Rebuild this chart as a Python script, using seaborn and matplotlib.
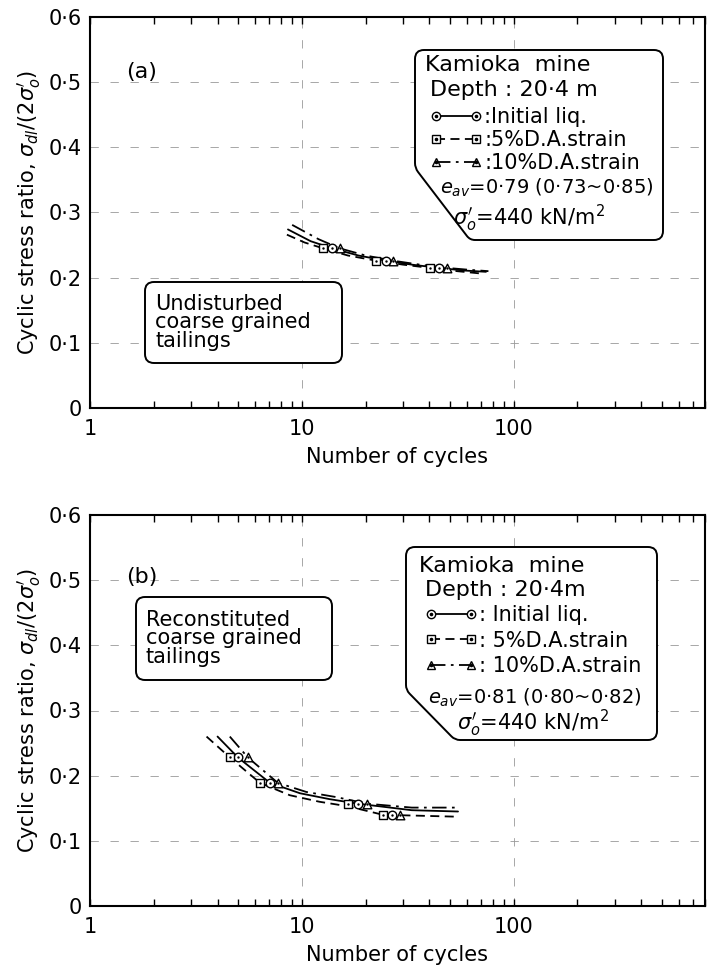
import numpy as np
import seaborn as sns
import matplotlib.pyplot as plt
from matplotlib.lines import Line2D
from matplotlib.path import Path
from matplotlib.patches import PathPatch
from matplotlib.ticker import LogLocator, NullFormatter
from matplotlib.legend_handler import HandlerTuple

sns.set_style("white")
plt.rcParams['font.family'] = ['DejaVu Sans']
plt.rcParams['text.color'] = 'black'
plt.rcParams['axes.labelcolor'] = 'black'
plt.rcParams['xtick.color'] = 'black'
plt.rcParams['ytick.color'] = 'black'

W, H = 716, 967

# ---- data ----
# (a) undisturbed coarse grained tailings
a_levels = [0.245, 0.226, 0.215]
a_n_init = [13.9, 24.9, 44.4]
a_n_5 = [12.6, 22.5, 40.2]
a_n_10 = [15.1, 27.0, 48.3]
a_curve_init_n = [8.6, 11.0, 13.9, 18.5, 24.9, 33.0, 44.4, 58.0, 74.0]
a_curve_init_csr = [0.274, 0.256, 0.245, 0.234, 0.226, 0.220, 0.215, 0.211, 0.209]
a_curve_5_n = [8.5, 10.3, 12.6, 16.5, 22.5, 30.0, 40.2, 54.0, 72.0]
a_curve_5_csr = [0.266, 0.254, 0.245, 0.234, 0.226, 0.220, 0.215, 0.210, 0.206]
a_curve_10_n = [9.0, 12.0, 15.1, 20.0, 27.0, 36.0, 48.3, 62.0, 76.0]
a_curve_10_csr = [0.281, 0.259, 0.245, 0.234, 0.226, 0.220, 0.215, 0.212, 0.210]

# (b) reconstituted coarse grained tailings
b_levels = [0.228, 0.189, 0.157, 0.140]
b_n_init = [4.99, 7.07, 18.4, 26.6]
b_n_5 = [4.57, 6.34, 16.5, 24.1]
b_n_10 = [5.56, 7.70, 20.3, 29.0]
b_curve_init_n = [4.0, 4.99, 7.07, 9.8, 13.5, 18.4, 33.0, 54.6]
b_curve_init_csr = [0.260, 0.228, 0.189, 0.173, 0.164, 0.157, 0.147, 0.145]
b_curve_5_n = [3.55, 4.57, 6.34, 8.77, 12.1, 16.5, 24.1, 54.6]
b_curve_5_csr = [0.260, 0.228, 0.189, 0.170, 0.160, 0.153, 0.140, 0.137]
b_curve_10_n = [4.57, 5.56, 7.70, 10.5, 14.6, 20.3, 33.0, 54.6]
b_curve_10_csr = [0.260, 0.228, 0.189, 0.175, 0.167, 0.157, 0.151, 0.151]

y_ticks = [0, 0.1, 0.2, 0.3, 0.4, 0.5, 0.6]
y_labels = ['0', '0·1', '0·2', '0·3', '0·4', '0·5', '0·6']
x_ticks = [1, 10, 100]
x_labels = ['1', '10', '100']
legend_labels_a = [':Initial liq.', ':5%D.A.strain', ':10%D.A.strain']
legend_labels_b = [': Initial liq.', ': 5%D.A.strain', ': 10%D.A.strain']

styles = {'init': ('-', 'o'), '5': ((0, (5, 3)), 's'), '10': ((0, (8, 3, 1.5, 3)), '^')}

fig = plt.figure(figsize=(W / 100, H / 100), dpi=100)


def fx(x):
    return x / W


def fy(y):
    return 1 - y / H


def rounded_box(pts, radii):
    # closed path through pixel corners with rounded joins
    verts, codes = [], []
    n = len(pts)
    for i in range(n):
        p0 = np.array(pts[i - 1], float)
        p1 = np.array(pts[i], float)
        p2 = np.array(pts[(i + 1) % n], float)
        r = radii[i]
        d1 = (p0 - p1) / np.linalg.norm(p0 - p1)
        d2 = (p2 - p1) / np.linalg.norm(p2 - p1)
        a = p1 + d1 * r
        b = p1 + d2 * r
        verts.append(a)
        codes.append(Path.MOVETO if i == 0 else Path.LINETO)
        verts += [p1, b]
        codes += [Path.CURVE3, Path.CURVE3]
    verts.append(verts[0])
    codes.append(Path.CLOSEPOLY)
    verts = [(fx(v[0]), fy(v[1])) for v in verts]
    return Path(verts, codes)


def add_box(ax, pts, radii):
    patch = PathPatch(rounded_box(pts, radii), facecolor='white', edgecolor='black',
                      lw=1.4, transform=fig.transFigure, zorder=6, clip_on=False)
    ax.add_patch(patch)


def panel(ax, levels, n_sets, curves):
    for key, (cn, cy) in curves.items():
        sns.lineplot(x=cn, y=cy, ax=ax, color='black', lw=1.3, linestyle=styles[key][0],
                     estimator=None, sort=False, zorder=2)
    for key, ns in n_sets.items():
        sns.scatterplot(x=ns, y=levels, ax=ax, marker=styles[key][1], s=38,
                        facecolor='white', edgecolor='black', linewidth=1.0, zorder=4)
        sns.scatterplot(x=ns, y=levels, ax=ax, marker='o', s=3, color='black',
                        linewidth=0, zorder=5)
    ax.set_xscale('log')
    ax.set_xlim(1, 800)
    ax.set_ylim(0, 0.6)
    ax.set_yticks(y_ticks, y_labels)
    ax.set_xticks(x_ticks, x_labels)
    ax.xaxis.set_minor_locator(LogLocator(base=10, subs=np.arange(2, 10)))
    ax.xaxis.set_minor_formatter(NullFormatter())
    ax.tick_params(axis='x', which='both', direction='in', length=5, width=1,
                   top=True, bottom=True, labelsize=15, pad=8)
    ax.tick_params(axis='y', which='both', length=0, labelsize=15, pad=6)
    ax.grid(True, which='major', color='0.6', lw=0.6, ls=(0, (10, 14)))
    for s in ax.spines.values():
        s.set_linewidth(1.5)
        s.set_color('black')
    ax.set_xlabel('Number of cycles', fontsize=15, labelpad=6)
    ax.set_ylabel(r"Cyclic stress ratio, $\sigma_{dl}/(2\sigma_o')$", fontsize=15, labelpad=4)


def key_handles():
    hs = []
    for key in ['init', '5', '10']:
        ls, m = styles[key]
        line = Line2D([], [], color='black', lw=1.3, ls=ls, marker=m, ms=6,
                      mfc='white', mec='black', mew=1.0)
        dot = Line2D([], [], ls='none', marker='o', ms=1.6, color='black')
        hs.append((line, dot))
    return hs


def info_box(ax, box_pts, lines, labels, legend_at, spacing, eav, sigma):
    add_box(ax, box_pts, [9, 9, 9, 5, 5])
    for (x, y, s) in lines:
        ax.text(fx(x), fy(y), s, transform=fig.transFigure, fontsize=16,
                va='center', ha='left', zorder=8)
    leg = ax.legend(handles=key_handles(), labels=labels,
                    handler_map={tuple: HandlerTuple(ndivide=1, pad=0)},
                    numpoints=2, handlelength=2.5, handletextpad=0.1, labelspacing=spacing,
                    borderpad=0, borderaxespad=0, frameon=False, fontsize=15,
                    loc='upper left', bbox_to_anchor=(fx(legend_at[0]), fy(legend_at[1])),
                    bbox_transform=fig.transFigure)
    leg.set_zorder(9)
    ax.text(fx(eav[0]), fy(eav[1]), eav[2], transform=fig.transFigure, fontsize=14,
            va='center', ha='left', zorder=8)
    ax.text(fx(sigma[0]), fy(sigma[1]), sigma[2], transform=fig.transFigure, fontsize=15,
            va='center', ha='left', zorder=8)


def note_box(ax, x0, y0, x1, y1, text):
    add_box(ax, [(x0, y0), (x1, y0), (x1, y1), (x0, y1)], [9, 9, 9, 9])
    ax.text(fx(x0 + 10), fy((y0 + y1) / 2), text, transform=fig.transFigure, fontsize=15,
            va='center', ha='left', linespacing=0.92, zorder=8)


# ---- panel (a) ----
ax_a = fig.add_axes([fx(90), fy(408), 615 / W, 391 / H])
panel(ax_a, a_levels, {'init': a_n_init, '5': a_n_5, '10': a_n_10},
      {'init': (a_curve_init_n, a_curve_init_csr), '5': (a_curve_5_n, a_curve_5_csr),
       '10': (a_curve_10_n, a_curve_10_csr)})
ax_a.text(1.75, 0.515, '(a)', fontsize=16, ha='center', va='center')
box_a = [(415, 50), (663, 50), (663, 240), (470, 240), (415, 168)]
info_box(ax_a, box_a, [(425, 65, 'Kamioka  mine'), (430, 90, 'Depth : 20·4 m')],
         legend_labels_a, (430, 107), 0.15,
         (440, 188, r'$e_{av}$=0·79 (0·73~0·85)'),
         (453, 218, r"$\sigma_o'$=440 kN/m$^2$"))
note_box(ax_a, 145, 282, 342, 363, 'Undisturbed\ncoarse grained\ntailings')

# ---- panel (b) ----
ax_b = fig.add_axes([fx(90), fy(906), 615 / W, 391 / H])
panel(ax_b, b_levels, {'init': b_n_init, '5': b_n_5, '10': b_n_10},
      {'init': (b_curve_init_n, b_curve_init_csr), '5': (b_curve_5_n, b_curve_5_csr),
       '10': (b_curve_10_n, b_curve_10_csr)})
ax_b.text(1.75, 0.505, '(b)', fontsize=16, ha='center', va='center')
box_b = [(406, 547), (657, 547), (657, 740), (455, 740), (406, 690)]
info_box(ax_b, box_b, [(419, 566, 'Kamioka  mine'), (425, 590, 'Depth : 20·4m')],
         legend_labels_b, (425, 605), 0.27,
         (428, 698, r'$e_{av}$=0·81 (0·80~0·82)'),
         (457, 723, r"$\sigma_o'$=440 kN/m$^2$"))
note_box(ax_b, 136, 597, 332, 680, 'Reconstituted\ncoarse grained\ntailings')

fig.savefig('out.png', dpi=100)
